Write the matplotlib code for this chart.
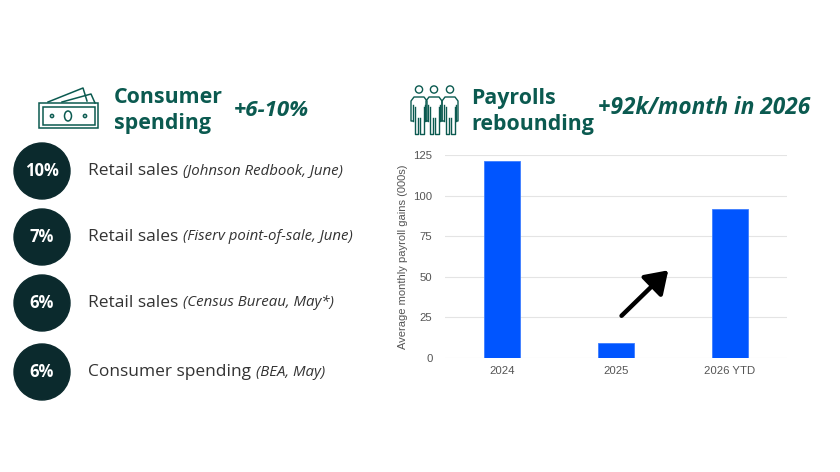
import matplotlib
matplotlib.use("Agg")
import matplotlib.pyplot as plt
from matplotlib.patches import Circle, Rectangle, Ellipse, FancyArrowPatch

# ---- data ----
categories = ["2024", "2025", "2026 YTD"]
payroll_gains = [121.5, 9.5, 92]
y_ticks = [0, 25, 50, 75, 100, 125]
arrow_from = (1.05, 26)
arrow_to = (1.46, 54)

badges = ["10%", "7%", "6%", "6%"]
item_main = ["Retail sales", "Retail sales", "Retail sales", "Consumer spending"]
item_source = ["(Johnson Redbook, June)", "(Fiserv point-of-sale, June)",
               "(Census Bureau, May*)", "(BEA, May)"]

left_title = ["Consumer", "spending"]
left_headline = "+6-10%"
right_title = ["Payrolls", "rebounding"]
right_headline = "+92k/month in 2026"
y_label = "Average monthly payroll gains (000s)"

TEAL = "#0b5a50"
DARK = "#0b2a2d"
BLUE = "#0055ff"
TEXT = "#333333"
FONT = "Open Sans"
CHART_FONT = "Liberation Sans"

fig = plt.figure(figsize=(8.4, 4.72), dpi=100)
fig.patch.set_facecolor("white")

# background overlay in pixel coordinates
bg = fig.add_axes([0, 0, 1, 1])
bg.set_xlim(0, 840)
bg.set_ylim(472, 0)
bg.axis("off")

# ---- left panel ----
lw_icon = 1.1
bg.plot([48, 83, 87], [102, 88, 101], color=TEAL, lw=lw_icon)
bg.plot([62, 91, 95], [102, 94, 103], color=TEAL, lw=lw_icon)
bg.add_patch(Rectangle((39, 103), 59, 25, fill=True, facecolor="white", edgecolor=TEAL, lw=lw_icon))
bg.add_patch(Rectangle((42.5, 107), 52, 17.5, fill=False, edgecolor=TEAL, lw=lw_icon))
bg.add_patch(Ellipse((68, 116), 7, 10, fill=False, edgecolor=TEAL, lw=lw_icon))
bg.add_patch(Circle((52, 116), 1.6, fill=False, edgecolor=TEAL, lw=lw_icon))
bg.add_patch(Circle((85, 116), 1.6, fill=False, edgecolor=TEAL, lw=lw_icon))

bg.text(114, 103, left_title[0], fontsize=15.4, fontweight="bold", color=TEAL,
        family=FONT, va="baseline")
bg.text(114, 129, left_title[1], fontsize=15.4, fontweight="bold", color=TEAL,
        family=FONT, va="baseline")
bg.text(234, 111, left_headline, fontsize=16, fontweight="bold", style="italic",
        color=TEAL, family=FONT, va="center")

ys = [171, 237, 303, 372]
for y, b, m, s in zip(ys, badges, item_main, item_source):
    bg.add_patch(Circle((42, y), 28, color=DARK))
    bg.text(42, y, b, color="white", fontsize=12, fontweight="bold",
            ha="center", va="center", family=FONT)
    t = bg.text(88, y, m + " ", fontsize=12.5, color=TEXT, va="center", family=FONT)
    bg.annotate(s, xycoords=t, xy=(1, 0.5), va="center", ha="left",
                fontsize=10.8, style="italic", color=TEXT, family=FONT)

# ---- right panel ----
for cx in (419, 434, 450):
    bg.add_patch(Circle((cx, 89.5), 3.6, fill=False, edgecolor=TEAL, lw=1.0))
    xs = [cx - 6, cx - 8, cx - 8, cx - 5, cx + 5, cx + 8, cx + 8, cx + 6]
    yy = [121, 121, 101, 97, 97, 101, 121, 121]
    bg.plot(xs, yy, color=TEAL, lw=1.0)
    bg.plot([cx - 6, cx - 6], [105, 121], color=TEAL, lw=1.0)
    bg.plot([cx + 6, cx + 6], [105, 121], color=TEAL, lw=1.0)
    bg.plot([cx - 4.5, cx - 4.5, cx - 0.7, cx - 0.7], [107, 134, 134, 118], color=TEAL, lw=1.0)
    bg.plot([cx + 4.5, cx + 4.5, cx + 0.7, cx + 0.7], [107, 134, 134, 118], color=TEAL, lw=1.0)

bg.text(471, 104, right_title[0], fontsize=15.4, fontweight="bold", color=TEAL,
        family=FONT, va="baseline")
bg.text(471, 130, right_title[1], fontsize=15.4, fontweight="bold", color=TEAL,
        family=FONT, va="baseline")
bg.text(598, 108, right_headline, fontsize=16.3, fontweight="bold", style="italic",
        color=TEAL, family=FONT, va="center")

# ---- bar chart ----
ax = fig.add_axes([445 / 840, 1 - 358 / 472, (786.7 - 445) / 840, (358 - 155) / 472])
ax.patch.set_alpha(0)
x = list(range(len(categories)))
ax.bar(x, payroll_gains, width=0.315, color=BLUE, edgecolor="#3d7dff", lw=0.6, zorder=3)
ax.set_xlim(-0.5, 2.5)
ax.set_ylim(0, 125)
ax.set_yticks(y_ticks)
ax.set_xticks(x)
ax.set_xticklabels(categories)
for sp in ax.spines.values():
    sp.set_visible(False)
ax.grid(axis="y", color="#e4e4e4", lw=0.8, zorder=0)
ax.tick_params(axis="both", length=0, colors="#555555", labelsize=8.2)
ax.tick_params(axis="y", pad=9)
ax.tick_params(axis="x", pad=6)
for lab in ax.get_xticklabels() + ax.get_yticklabels():
    lab.set_family(CHART_FONT)
ax.set_ylabel(y_label, fontsize=8.0, color="#555555", family=CHART_FONT, labelpad=4)

ax.add_patch(FancyArrowPatch(arrow_from, arrow_to, arrowstyle="-|>,head_length=6,head_width=4",
                             color="black", lw=3.2, mutation_scale=2.2, zorder=5,
                             shrinkA=0, shrinkB=0))

fig.savefig("out.png", dpi=100, facecolor="white")
